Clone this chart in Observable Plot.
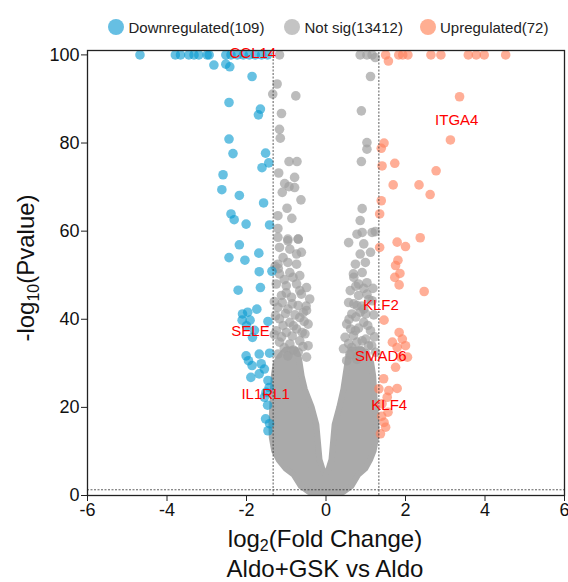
<!DOCTYPE html>
<html><head><meta charset="utf-8">
<script src="https://cdn.jsdelivr.net/npm/d3@7"></script>
<script src="https://cdn.jsdelivr.net/npm/@observablehq/plot@0.6"></script>
<style>
body{margin:0;background:#fff;font-family:"Liberation Sans",Arial,sans-serif;}
#legend{position:relative;height:40px;width:568px;font-size:15px;color:#222;}
.item{position:absolute;top:18px;display:flex;align-items:center;height:18px;white-space:nowrap;}
.sw{width:16px;height:16px;border-radius:50%;margin-right:4.5px;}
</style></head><body>
<div id="legend"></div><div id="chart"></div>
<script>
// ---- data ----
const legendLabels = ["Downregulated(109)", "Not sig(13412)", "Upregulated(72)"];
const legendColors = ["#66bfe3", "#c4c4c4", "#ffae92"];

const xTicks = [-6, -4, -2, 0, 2, 4, 6];
const yTicks = [0, 20, 40, 60, 80, 100];
const fcCut = [-1.33, 1.33];
const pCut = [1.3];

const downX = [-4.68,-3.79,-3.66,-3.45,-3.32,-3.20,-2.99,-2.94,-2.52,-2.39,-2.23,-2.08,-1.93,-1.78,-1.62,-1.47,
  -2.82,-2.52,-2.42,-1.86,-2.44,-1.65,-1.70,-2.44,-2.34,-1.52,-1.44,-1.61,-2.59,-2.62,-2.18,-1.57,-2.39,-2.31,-2.01,-1.42,
  -2.18,-2.44,-2.04,-1.69,-1.68,-1.36,-1.65,-2.21,
  -2.10,-1.97,-1.74,-2.11,-1.91,-1.46,-1.85,-2.00,-1.80,
  -2.01,-1.95,-1.68,-1.42,-1.86,-1.63,-1.55,-1.89,-1.68,-1.46,-1.51,-1.55,-1.52,-1.42,-1.46,-1.47,-1.43];
const downY = [100,100,100,100,100,100,100,100,100,100,100,100,100,100,100,100,
  97.7,97.9,97.3,95.1,89.2,87.7,86.4,80.9,77.6,77.7,75.5,74.4,72.8,69.4,68.1,66.4,63.9,62.6,61.6,61.4,
  56.9,54.0,53.4,55.0,50.8,50.9,47.2,46.6,
  41.2,41.6,42.3,39.8,39.8,39.5,35.9,38.5,37.5,
  31.7,30.6,32.1,32.3,29.5,29.9,28.7,26.8,27.6,26.1,23.4,22.3,17.4,16.3,14.7,20.5,24.5];

const upX = [1.50,1.57,1.83,1.93,2.06,2.64,2.89,3.58,3.78,3.98,4.52,
  3.36,3.13,1.46,1.39,1.73,1.41,2.77,1.69,2.34,2.62,1.39,1.35,1.79,2.00,2.37,1.35,1.81,1.75,1.86,1.73,1.84,2.47,
  1.46,1.84,1.92,1.67,1.79,2.00,1.88,1.75,2.05,1.33,1.58,1.79,1.54,1.41,1.56,1.46,1.50,1.37,1.40,1.45];
const upY = [100,98.6,100,100,100,100,100,100,100,100,100,
  90.5,80.7,80.0,78.8,75.4,74.8,73.7,70.5,70.5,68.3,66.9,63.9,57.5,56.5,58.5,56.3,53.4,52.2,50.4,49.5,47.8,46.3,
  39.8,37.0,35.5,34.8,33.6,34.0,31.4,29.1,31.4,24.2,23.8,24.3,22.3,20.8,18.9,16.6,15.5,14.0,18.0,26.5];

const nsX = [-1.17,0.86,1.03,1.16,1.24,
  -1.23,-1.34,-0.76,-1.12,-1.17,-1.15,-0.93,-0.73,-1.19,-1.04,-0.93,-0.79,-1.10,-0.79,-0.63,-0.98,-0.86,-1.21,-1.21,-0.96,-0.70,
  1.12,0.89,1.03,1.03,0.89,0.91,0.86,0.91,1.24,
  -1.21,-0.96,-0.70,-1.17,-0.91,-1.08,-0.74,-0.62,-1.21,-0.96,-0.74,
  -1.17,-0.91,-0.66,-1.25,-1.00,-0.74,-0.49,-1.12,-0.87,-0.62,-0.41,-1.21,-0.96,-0.70,-0.49,
  -1.17,-0.91,-0.66,-0.45,-1.25,-1.00,-0.74,-0.53,-1.17,-0.91,-0.66,-0.45,-1.21,-0.96,-0.70,-0.49,
  -1.30,-1.28,-1.30,-1.27,
  -1.05,-0.82,-0.58,-1.12,-0.85,-0.60,-1.08,-0.82,-0.55,-1.02,-0.78,-0.57,-1.10,-0.85,-0.50,-1.00,-0.66,-1.05,-0.83,-1.20,
  0.78,1.16,0.57,0.95,0.86,1.12,0.74,0.99,
  0.69,0.91,0.82,1.03,0.61,0.82,1.03,0.57,0.78,0.95,1.16,0.65,0.86,
  0.52,0.74,0.95,1.12,0.48,0.69,0.91,0.44,0.65,0.86,1.07,0.52,0.78,
  1.20,1.22,1.18,1.25,
  0.60,0.80,1.00,0.57,0.78,1.00,1.15,0.62,0.82,1.05,0.58,0.75,1.00,0.70,0.90,1.08,0.75,0.95,0.70];
const nsY = [100,100,100,100,99.4,
  93.4,91.1,90.7,86.7,83.1,81.1,75.8,75.8,73.2,70.8,70.1,69.9,68.8,72.2,67.1,65.2,62.9,63.5,60.6,58.2,58.2,
  95.1,87.3,80.1,78.6,75.8,65.1,62.4,59.7,59.9,
  58.6,57.8,58.2,56.3,55.9,54.0,54.8,55.2,52.5,52.9,52.5,
  50.3,50.6,49.9,48.0,47.6,48.0,47.2,45.4,45.0,45.7,44.6,42.7,42.3,43.1,42.0,
  40.1,39.3,40.4,38.9,37.4,37.0,37.8,36.7,34.8,34.4,35.1,34.0,32.1,31.7,32.5,31.4,
  44.0,52.0,36.5,40.8,
  33.5,33.0,33.8,36.0,36.2,37.0,38.6,38.5,39.5,41.3,41.0,41.5,43.8,43.5,43.0,46.0,46.5,49.0,49.5,51.5,
  59.3,59.7,57.4,57.1,54.8,55.2,52.5,52.9,
  50.3,50.6,48.0,48.3,46.5,45.4,45.7,43.8,43.1,42.3,44.2,41.2,41.6,
  38.9,37.4,39.3,37.4,35.9,36.3,35.1,33.3,33.6,32.9,34.0,30.6,30.9,
  41.0,36.0,47.0,32.5,
  32.0,31.8,32.2,34.5,34.8,35.5,34.0,37.8,38.0,38.6,40.0,40.5,41.2,43.5,43.0,44.5,47.5,47.0,49.5];

// dense core of the non-significant cloud (boundary)
const cloudY     = [0.7, 2, 4.6, 6, 8, 10, 13, 16, 20, 24, 27, 30, 31.5, 33];
const leftOuter  = [-0.42,-0.62,-0.80,-1.00,-1.18,-1.29,-1.35,-1.36,-1.34,-1.32,-1.30,-1.25,-1.15,-1.00];
const leftInner  = [0,0,0,-0.08,-0.15,-0.17,-0.20,-0.23,-0.35,-0.52,-0.60,-0.65,-0.68,-0.75];
const rightInner = [0,0,0,0.08,0.15,0.17,0.20,0.23,0.35,0.45,0.50,0.55,0.58,0.64];
const rightOuter = [0.45,0.65,0.82,1.00,1.12,1.21,1.27,1.28,1.25,1.22,1.20,1.15,1.05,0.92];

const geneNames = ["CCL14","ITGA4","SELE","IL1RL1","KLF2","SMAD6","KLF4"];
const geneX = [-1.84, 3.29, -1.90, -1.52, 1.38, 1.38, 1.59];
const geneY = [100.5, 85.2, 37.4, 23.1, 43.1, 31.7, 20.4];

const xTitle = ["log", "2", "(Fold Change)"];
const xSubtitle = "Aldo+GSK vs Aldo";
const yTitle = ["-log", "10", "(Pvalue)"];

// ---- legend ----
const legendLeft = [108, 284, 419.5];
const leg = document.getElementById("legend");
legendLabels.forEach((t, i) => {
  const it = document.createElement("div");
  it.className = "item"; it.style.left = legendLeft[i] + "px";
  const sw = document.createElement("span"); sw.className = "sw"; sw.style.background = legendColors[i];
  const tx = document.createElement("span"); tx.textContent = t;
  it.append(sw, tx); leg.append(it);
});

// ---- tables ----
const down = downX.map((x, i) => ({x, y: downY[i]}));
const up = upX.map((x, i) => ({x, y: upY[i]}));
const ns = nsX.map((x, i) => ({x, y: nsY[i]}));
const cloud = cloudY.map((y, i) => ({y, lo: leftOuter[i], li: leftInner[i], ri: rightInner[i], ro: rightOuter[i]}));
const genes = geneNames.map((g, i) => ({g, x: geneX[i], y: geneY[i]}));

const font = "'Liberation Sans', Arial, sans-serif";
const plot = Plot.plot({
  width: 568, height: 542,
  marginLeft: 87, marginRight: 4, marginTop: 10, marginBottom: 87,
  style: {fontFamily: font, fontSize: "18px", color: "#111", background: "white", overflow: "visible"},
  x: {domain: [-6, 6]},
  y: {domain: [0, 101]},
  marks: [
    Plot.areaX(cloud, {y: "y", x1: "lo", x2: "li", fill: "#aaaaaa", stroke: "#aaaaaa", strokeWidth: 6, strokeLinejoin: "round"}),
    Plot.areaX(cloud, {y: "y", x1: "ri", x2: "ro", fill: "#aaaaaa", stroke: "#aaaaaa", strokeWidth: 6, strokeLinejoin: "round"}),
    Plot.dot(ns, {x: "x", y: "y", r: 4.8, fill: "#a0a0a0", fillOpacity: 0.7}),
    Plot.dot(down, {x: "x", y: "y", r: 4.8, fill: "#0a9bd0", fillOpacity: 0.62}),
    Plot.dot(up, {x: "x", y: "y", r: 4.8, fill: "#ff825f", fillOpacity: 0.65}),
    Plot.ruleX(fcCut, {y1: 0, y2: 101, stroke: "#333", strokeWidth: 0.8, strokeDasharray: "2,1.5"}),
    Plot.ruleY(pCut, {x1: -6, x2: 6, stroke: "#333", strokeWidth: 0.8, strokeDasharray: "2,1.5"}),
    Plot.text(genes, {x: "x", y: "y", text: "g", fill: "red", fontSize: 15, fontFamily: font}),
    Plot.frame({stroke: "#222", strokeWidth: 1.3}),
    Plot.axisX({ticks: xTicks, tickSize: 6, tickPadding: 2, tickFormat: d => String(d), label: null, fontSize: 18, stroke: "#222"}),
    Plot.axisY({ticks: yTicks, tickSize: 6, tickPadding: 2, tickFormat: d => String(d), label: null, fontSize: 18, stroke: "#222"})
  ]
});

const svg = d3.select(plot);
const yl = svg.append("text").attr("transform", "translate(33.5,228) rotate(-90)")
  .attr("text-anchor", "middle").attr("font-size", 24).attr("fill", "#111").attr("font-family", font);
yl.append("tspan").text(yTitle[0]);
yl.append("tspan").attr("font-size", 16).attr("dy", 5).text(yTitle[1]);
yl.append("tspan").attr("dy", -5).text(yTitle[2]);

const xl = svg.append("text").attr("x", 325).attr("y", 507)
  .attr("text-anchor", "middle").attr("font-size", 24).attr("fill", "#111").attr("font-family", font);
xl.append("tspan").text(xTitle[0]);
xl.append("tspan").attr("font-size", 16).attr("dy", 4).text(xTitle[1]);
xl.append("tspan").attr("dy", -4).text(xTitle[2]);

svg.append("text").attr("x", 325).attr("y", 537)
  .attr("text-anchor", "middle").attr("font-size", 24).attr("fill", "#111").attr("font-family", font)
  .text(xSubtitle);

document.getElementById("chart").append(plot);
</script>
</body></html>
